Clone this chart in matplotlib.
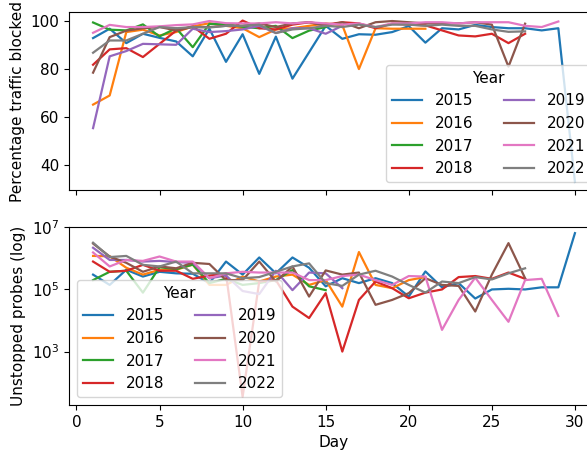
import matplotlib
matplotlib.use("Agg")
import matplotlib.pyplot as plt
from matplotlib.ticker import FixedLocator, NullLocator
import numpy as np

plt.rcParams["font.size"] = 11
plt.rcParams["lines.linewidth"] = 1.6

years = [2015, 2016, 2017, 2018, 2019, 2020, 2021, 2022]

# percentage of traffic blocked per day, one list per year
blocked = {
    2015: [92.9, 96.8, 90.8, 94.7, 93.0, 91.5, 85.3, 96.8, 83.0, 94.5,
           78.0, 93.5, 76.0, 87.0, 98.0, 92.6, 94.5, 94.3, 95.4, 97.9,
           91.0, 97.0, 96.5, 98.4, 97.5, 97.0, 97.0, 96.1, 97.0, 33.0],
    2016: [65.2, 69.0, 95.4, 96.4, 94.0, 95.4, 97.8, 99.1, 98.0, 97.0,
           93.3, 96.5, 97.0, 98.0, 99.0, 98.3, 80.0, 97.0, 96.8, 96.8, 96.8],
    2017: [99.4, 96.4, 96.1, 98.6, 93.6, 97.0, 89.1, 98.8, 98.8, 97.6,
           97.0, 98.0, 92.9, 96.0, 97.5],
    2018: [81.8, 88.2, 88.7, 85.0, 90.5, 96.0, 97.8, 92.6, 94.7, 100.2,
           97.0, 96.5, 98.5, 99.5, 98.5, 99.5, 99.0, 97.0, 98.9, 98.5,
           98.2, 96.1, 94.0, 93.6, 94.7, 90.8, 94.7],
    2019: [55.4, 85.3, 87.5, 90.5, 90.3, 90.1, 96.8, 95.4, 95.8, 96.5,
           98.0, 95.0, 97.0, 97.0, 94.7, 98.0],
    2020: [78.5, 93.3, 96.0, 97.0, 97.5, 96.1, 97.5, 97.5, 98.0, 98.0,
           99.0, 97.5, 99.0, 99.5, 98.0, 99.5, 97.0, 99.5, 100.0, 99.5,
           99.0, 99.0, 99.0, 99.5, 98.5, 81.0, 98.9],
    2021: [95.1, 98.4, 97.5, 97.5, 97.8, 98.3, 98.6, 100.0, 99.1, 99.0,
           99.0, 99.5, 99.0, 99.5, 99.0, 98.5, 99.0, 97.5, 99.0, 99.0,
           99.5, 99.5, 99.0, 99.5, 99.5, 99.5, 98.0, 97.5, 99.8],
    2022: [86.8, 91.9, 91.9, 94.7, 97.5, 97.0, 97.5, 97.3, 98.0, 98.0,
           98.5, 95.0, 96.5, 97.0, 98.0, 97.5, 98.5, 97.5, 98.5, 98.5,
           98.0, 98.5, 98.0, 98.0, 96.5, 95.5, 95.7],
}

# probes that got through, per day
probes = {
    2015: [3.0e5, 1.4e5, 4.3e5, 2.6e5, 3.7e5, 3.3e5, 3.2e5, 1.6e5, 7.9e5, 3.0e5,
           1.07e6, 3.3e5, 1.07e6, 5.0e5, 1.26e5, 2.3e5, 1.6e5, 2.3e5, 1.6e5, 5.9e4,
           3.8e5, 1.17e5, 1.6e5, 5.1e4, 1.0e5, 1.05e5, 1.0e5, 1.17e5, 1.17e5, 6.5e6],
    2016: [1.2e6, 1.17e6, 5.0e5, 3.0e5, 4.3e5, 4.3e5, 6.3e5, 1.4e5, 1.4e5, 2.6e5,
           1.8e5, 2.6e5, 3.0e5, 1.4e5, 2.0e5, 2.8e4, 1.6e6, 1.4e5, 1.1e5, 2.0e5, 2.5e5],
    2017: [2.0e5, 3.7e5, 4.0e5, 7.9e4, 5.2e5, 4.5e5, 6.3e5, 1.6e5, 2.2e5, 1.4e5,
           1.6e5, 2.0e5, 4.2e5, 1.26e5, 9.5e4],
    2018: [7.9e5, 3.7e5, 4.0e5, 6.2e5, 4.0e5, 4.0e5, 2.2e5, 2.8e5, 3.2e5, 35,
           1.8e5, 2.0e5, 2.8e4, 1.2e4, 7.6e4, 1.0e3, 4.6e4, 1.8e5, 1.1e5, 5.2e4,
           7.9e4, 1.0e5, 2.5e5, 2.7e5, 2.2e5, 3.5e5, 2.2e5],
    2019: [2.2e6, 8.9e5, 8.9e5, 7.9e5, 8.3e5, 7.6e5, 7.2e5, 2.3e5, 2.8e5, 8.9e4,
           7.1e4, 4.0e5, 9.5e4, 3.5e5, 3.3e5, 1.1e5],
    2020: [3.0e6, 1.15e6, 7.2e5, 3.7e5, 5.5e5, 4.8e5, 7.2e5, 6.6e5, 2.0e5, 2.0e5,
           7.9e5, 1.8e5, 5.5e5, 5.9e4, 4.1e5, 3.0e5, 3.5e5, 3.2e4, 4.6e4, 7.6e4,
           2.3e5, 1.4e5, 1.3e5, 1.95e4, 3.0e5, 3.1e6, 2.3e5],
    2021: [1.55e6, 5.5e5, 8.9e5, 8.3e5, 1.15e6, 7.9e5, 7.9e5, 2.3e5, 3.3e5, 3.7e5,
           3.5e5, 3.5e5, 3.5e5, 2.0e5, 2.0e5, 2.7e5, 3.0e5, 2.0e5, 1.4e5, 2.7e5,
           2.6e5, 5.0e3, 4.6e4, 2.4e5, 4.6e4, 9.1e3, 2.0e5, 2.2e5, 1.4e4],
    2022: [3.2e6, 1.1e6, 1.2e6, 6.2e5, 5.5e5, 7.9e5, 3.3e5, 3.3e5, 3.3e5, 2.3e5,
           2.5e5, 3.7e5, 5.5e5, 6.9e5, 1.6e5, 1.3e5, 3.0e5, 4.0e5, 2.6e5, 1.4e5,
           7.9e4, 1.8e5, 1.6e5, 2.5e5, 2.1e5, 3.3e5, 4.8e5],
}

fig, (ax1, ax2) = plt.subplots(2, 1, sharex=True, figsize=(5.87, 4.54), dpi=100)

for y in years:
    days = np.arange(1, len(blocked[y]) + 1)
    ax1.plot(days, blocked[y], label=str(y))
    days = np.arange(1, len(probes[y]) + 1)
    ax2.plot(days, probes[y], label=str(y))

ax2.set_yscale("log")
ax2.yaxis.set_major_locator(FixedLocator([1e3, 1e5, 1e7]))
ax2.yaxis.set_minor_locator(NullLocator())
ax2.set_ylim(10 ** 1.28, 10 ** 7.0)

ax1.set_ylabel("Percentage traffic blocked")
ax2.set_ylabel("Unstopped probes (log)")
ax2.set_xlabel("Day")

ax1.legend(title="Year", ncol=2, loc="lower right")
ax2.legend(title="Year", ncol=2, loc="lower left")

# the original was cropped on the right, so the axes run past the edge
ax1.set_position([0.1175, 0.5815, 0.903, 0.391])
ax2.set_position([0.1175, 0.1079, 0.903, 0.3914])

fig.savefig("out.png", dpi=100)
